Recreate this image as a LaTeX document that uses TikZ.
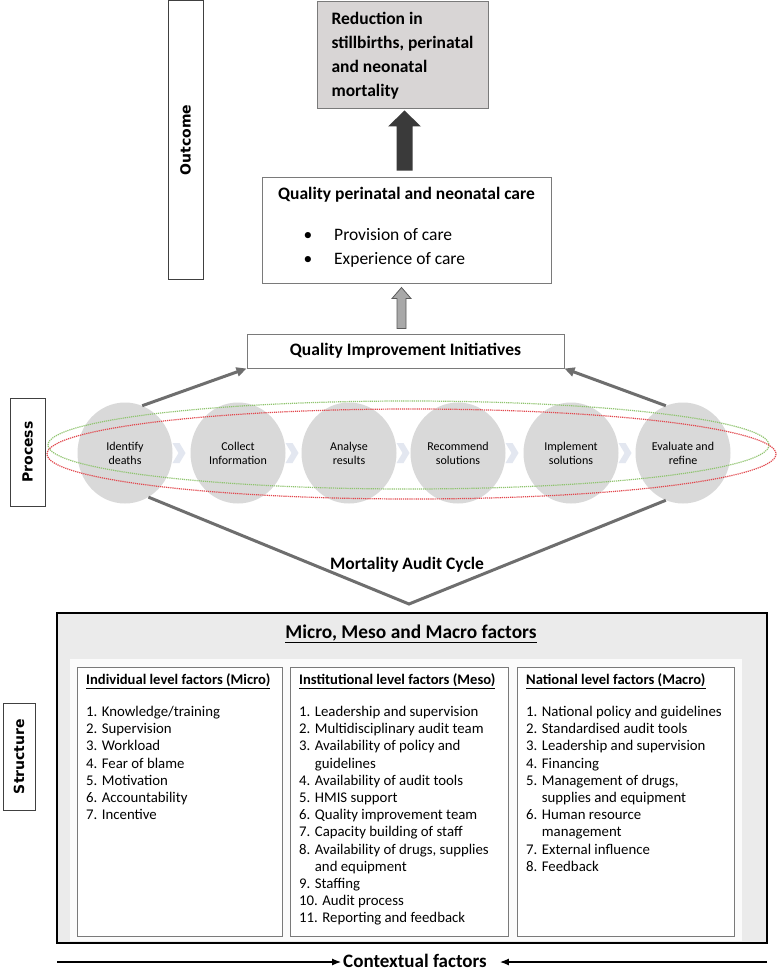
\documentclass[tikz,border=0pt]{standalone}
\usepackage{fontspec}
\setmainfont{Carlito}
\newfontfamily\labfont{DejaVu Sans}
\usetikzlibrary{arrows.meta,calc,shapes.geometric}
\newcommand\setfs[2]{\fontsize{#1pt}{#2pt}\selectfont}
\definecolor{labgray}{HTML}{404040}
\definecolor{boxgray}{HTML}{7A7A7A}
\definecolor{redfill}{HTML}{D8D5D5}
\definecolor{circfill}{HTML}{D9D9D9}
\definecolor{darkarrow}{HTML}{3A3A3A}
\definecolor{garrow}{HTML}{A8A8A8}
\definecolor{garrowline}{HTML}{5A5A5A}
\definecolor{conngray}{HTML}{6E6E6E}
\definecolor{greenc}{HTML}{8FC46E}
\definecolor{redc}{HTML}{E2474D}
\definecolor{chevfill}{HTML}{E3E7F0}
\definecolor{outerfill}{HTML}{EBEBEB}
\definecolor{panelfill}{HTML}{FBFBFB}
\begin{document}
\begin{tikzpicture}[x=1pt,y=-1pt,
  lab/.style={draw=labgray, line width=1pt, rotate=90, inner sep=0pt, font=\labfont\bfseries\setfs{14}{17}},
  box/.style={draw=boxgray, line width=1pt, inner sep=0pt},
  circ/.style={ellipse, fill=circfill, minimum width=95pt, minimum height=101pt, inner sep=0pt, align=center, font=\setfs{12}{14}},
  conn/.style={draw=conngray, line width=3pt},
  head/.style={font=\bfseries\setfs{17.5}{24}},
  lhead/.style={anchor=west, inner sep=0pt, font=\bfseries\setfs{14.6}{17.2}},
  list/.style={anchor=north west, inner sep=0pt, align=left, font=\setfs{14.8}{17.2}},
  txt/.style={inner sep=0pt, anchor=base west, font=\setfs{17.5}{21}},
]
\useasboundingbox[fill=white] (0,0) rectangle (777,971);

% ---------------- Outcome ----------------
\node[lab, minimum width=278pt, minimum height=35pt] (outlab) at (185.5,140) {Outcome};
\node[box, fill=redfill, minimum width=171pt, minimum height=107pt, align=left,
      font=\bfseries\setfs{17.5}{24}] (red) at (402.5,55.5)
      {Reduction in\\stillbirths, perinatal\\and neonatal\\mortality};

\node[box, minimum width=289pt, minimum height=106pt] (care) at (406.5,230) {};
\node[head, inner sep=0pt] (caret) at (406.5,195) {Quality perinatal and neonatal care};
\node[txt, anchor=base] (bul1) at (308,240) {•};
\node[txt] (it1) at (334,240) {Provision of care};
\node[txt, anchor=base] (bul2) at (308,264) {•};
\node[txt] (it2) at (334,264) {Experience of care};

% dark arrow
\coordinate (dtip) at ($(red.south)+(2,1)$);
\fill[darkarrow] (dtip) -- ++(16.5,16) -- ++(-8.5,0) -- ++(0,44) -- ++(-16,0) -- ++(0,-44) -- ++(-8.5,0) -- cycle;

\node[box, minimum width=317pt, minimum height=34pt, head] (qi) at (405.5,351) {Quality Improvement Initiatives};

% gray arrow
\coordinate (gtip) at ($(care.south)+(-5,4)$);
\filldraw[fill=garrow, draw=garrowline, line width=0.8pt] (gtip) -- ++(9.5,11) -- ++(-5,0) -- ++(0,30) -- ++(-9,0) -- ++(0,-30) -- ++(-5,0) -- cycle;

% ---------------- Process ----------------
\node[lab, minimum width=108pt, minimum height=35pt] (proclab) at (27.5,452) {Process};

\foreach \i/\x in {1/125,2/238,3/349,4/458,5/571}{
  \fill[chevfill] ($(\x,453)+(47.5,-10)$) -- ++(7,0) -- ++(6,10) -- ++(-6,10) -- ++(-7,0) -- ++(6,-10) -- cycle;
}
\node[circ] (c1) at (125,453) {Identify\\deaths};
\node[circ] (c2) at (238,453) {Collect\\Information};
\node[circ] (c3) at (349,453) {Analyse\\results};
\node[circ] (c4) at (458,453) {Recommend\\solutions};
\node[circ] (c5) at (571,453) {Implement\\solutions};
\node[circ] (c6) at (683,453) {Evaluate and\\refine};

\draw[greenc, line width=1.2pt, dash pattern=on 1.2pt off 0.9pt] (408.5,445) ellipse [x radius=360.5, y radius=44];
\draw[redc, line width=1.2pt, dash pattern=on 1.2pt off 0.9pt] (411.5,454) ellipse [x radius=364.5, y radius=45];

\draw[conn, -{Triangle[length=10pt,width=9pt]}] (c1.70) -- (qi.south west);
\draw[conn, -{Triangle[length=10pt,width=9pt]}] (c6.110) -- (qi.south east);

\coordinate (apex) at (409,604);
\draw[conn] (c1.-62) -- (apex) -- (c6.-110);
\node[head, inner sep=0pt] (mac) at (407,565) {Mortality Audit Cycle};

% ---------------- Structure ----------------
\node[lab, minimum width=107pt, minimum height=32pt] (strlab) at (19,756.5) {Structure};

\node[draw=black, line width=1.8pt, fill=outerfill, minimum width=710pt, minimum height=330pt, inner sep=0pt] (outer) at (412,778) {};
\node[fill=panelfill, minimum width=672pt, minimum height=282pt, inner sep=0pt] (panel) at (406,800) {};
\node[inner sep=0pt, font=\bfseries\setfs{19.4}{23}] (mmm) at (411,634) {\underline{Micro, Meso and Macro factors}};

\node[box, fill=white, minimum width=205pt, minimum height=269pt] (bx1) at (179.5,801.5) {};
\node[box, fill=white, minimum width=218pt, minimum height=269pt] (bx2) at (399,801.5) {};
\node[box, fill=white, minimum width=217pt, minimum height=269pt] (bx3) at (625.5,801.5) {};

\node[lhead] (h1) at (86,681) {\underline{Individual level factors (Micro)}};
\node[lhead] (h2) at (299,681) {\underline{Institutional level factors (Meso)}};
\node[lhead] (h3) at (526,681) {\underline{National level factors (Macro)}};

\node[list] (l1) at (86,706) {1. Knowledge/training\\2. Supervision\\3. Workload\\4. Fear of blame\\5. Motivation\\6. Accountability\\7. Incentive};
\node[list] (l2) at (299,706) {1. Leadership and supervision\\2. Multidisciplinary audit team\\3. Availability of policy and\\\phantom{3. }guidelines\\4. Availability of audit tools\\5. HMIS support\\6. Quality improvement team\\7. Capacity building of staff\\8. Availability of drugs, supplies\\\phantom{8. }and equipment\\9. Staffing\\10. Audit process\\11. Reporting and feedback};
\node[list] (l3) at (526,706) {1. National policy and guidelines\\2. Standardised audit tools\\3. Leadership and supervision\\4. Financing\\5. Management of drugs,\\\phantom{5. }supplies and equipment\\6. Human resource\\\phantom{6. }management\\7. External influence\\8. Feedback};

% ---------------- Contextual factors ----------------
\node[inner sep=0pt, font=\bfseries\setfs{19}{23}] (ctx) at (415,961) {Contextual factors};
\coordinate (cl) at (57,962);
\coordinate (cr) at (767,962);
\draw[line width=1.2pt, -{Latex[length=9pt,width=7pt]}, shorten >=2pt] (cl) -- (cl -| ctx.west);
\draw[line width=1.2pt, -{Latex[length=9pt,width=7pt]}, shorten >=13pt] (cr) -- (cr -| ctx.east);
\end{tikzpicture}
\end{document}
